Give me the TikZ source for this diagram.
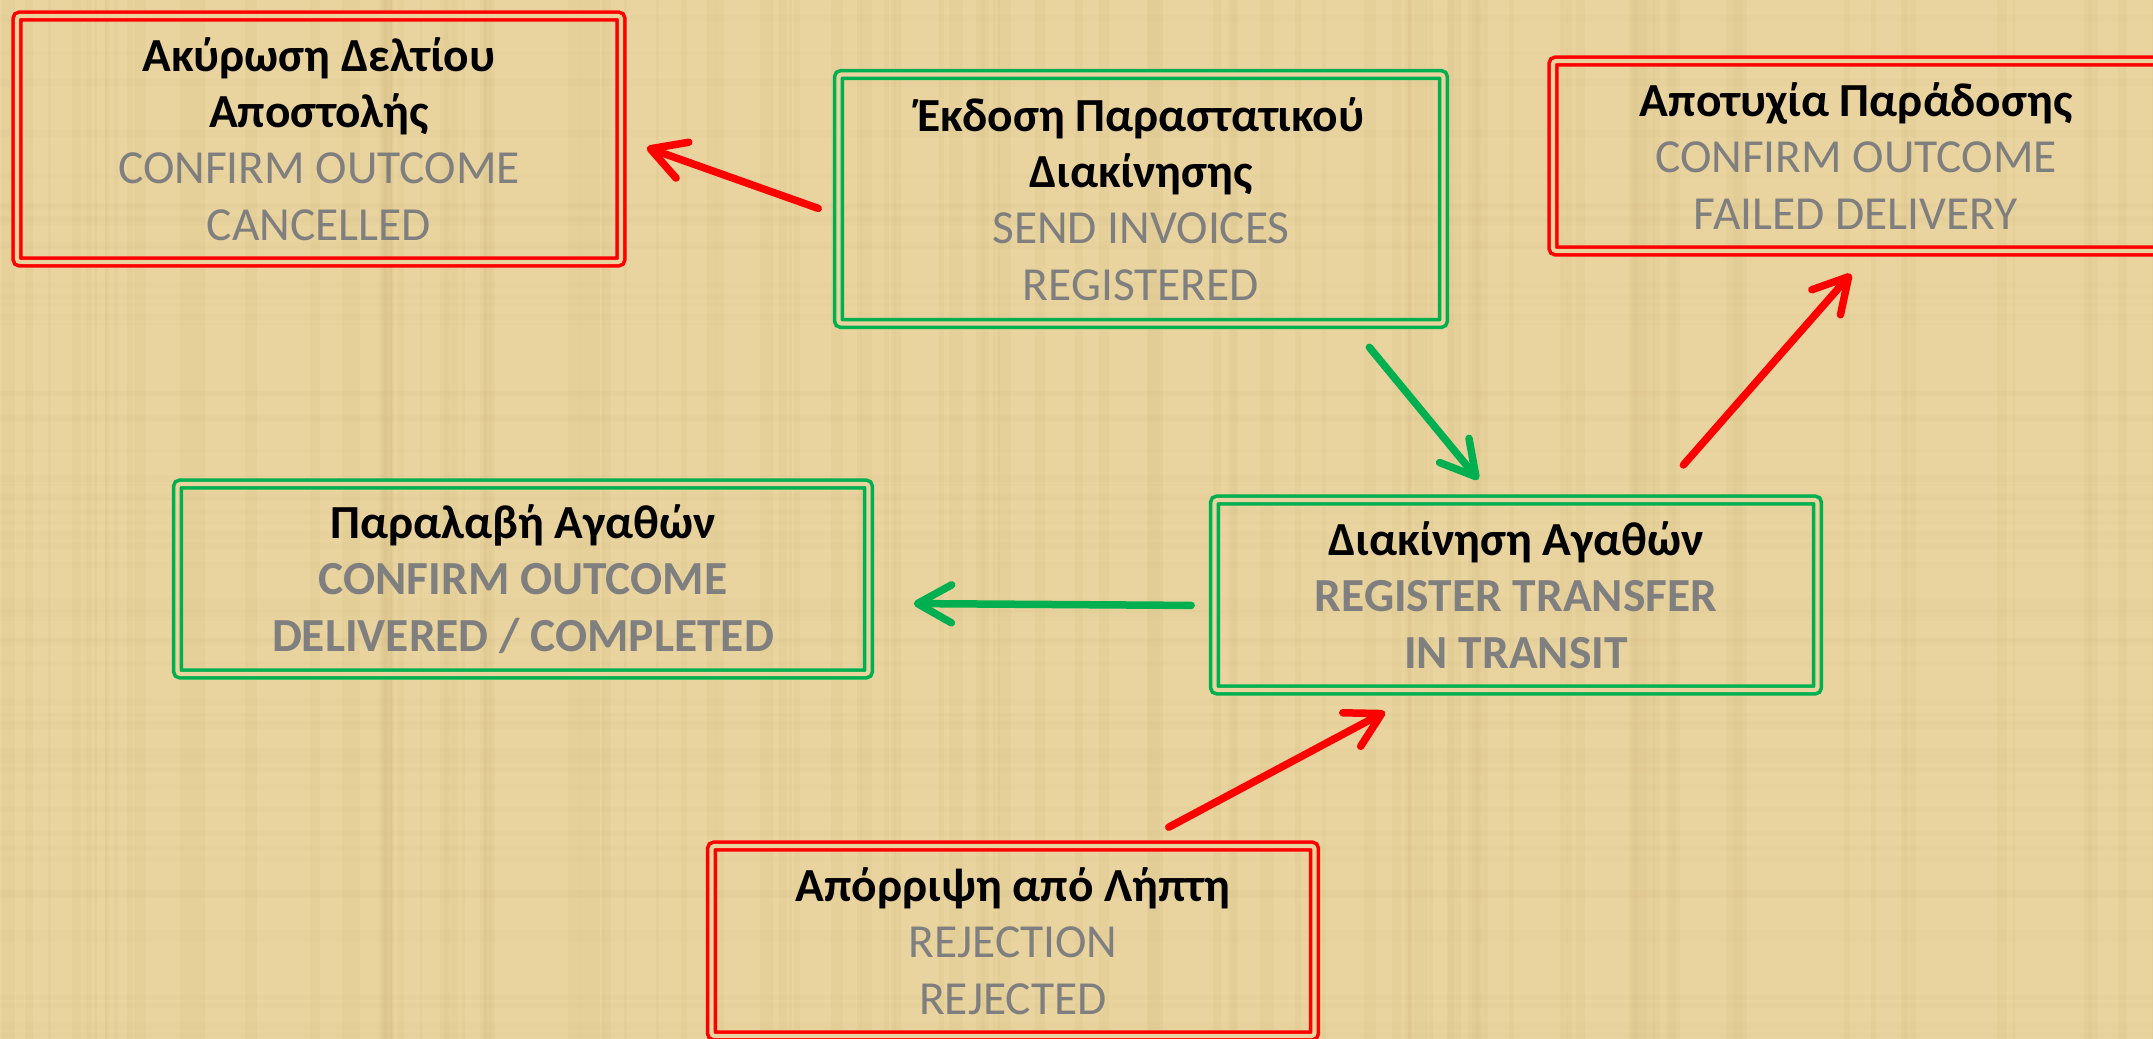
\documentclass[tikz,border=0pt]{standalone}
\usepackage{fontspec}
\setmainfont{Carlito}
\usetikzlibrary{arrows.meta}

\definecolor{paper}{HTML}{E9D39E}
\definecolor{fibre}{HTML}{C9AE6E}
\definecolor{okgreen}{HTML}{00B050}
\definecolor{txtgray}{HTML}{7F7F7F}
\newcommand{\grey}[1]{\textcolor{txtgray}{#1}}

\begin{document}
\begin{tikzpicture}[x=0.1mm, y=-0.1mm,
    statebox/.style={double=paper, double distance=0.42mm, line width=0.36mm,
        rounded corners=0.3mm, align=center, inner sep=0pt,
        font=\fontsize{13.5}{16}\selectfont},
    okbox/.style={statebox, draw=okgreen},
    failbox/.style={statebox, draw=red},
    flow/.style={line width=0.75mm, line cap=round,
        -{Straight Barb[length=3.4mm, width=3.8mm, round]}},
    okflow/.style={flow, okgreen},
    failflow/.style={flow, red}]
\useasboundingbox (0,0) rectangle (2153,1039);
\clip (0,0) rectangle (2153,1039);
\fill[paper] (0,0) rectangle (2153,1039);
% papyrus fibres
\pgfmathsetseed{11}
\foreach \i in {1,...,110} {
    \pgfmathsetmacro\fx{random(0,2153)}
    \pgfmathsetmacro\fw{random(2,14)}
    \fill[fibre, opacity=0.08] (\fx,0) rectangle ++(\fw,1039);
}
\foreach \i in {1,...,60} {
    \pgfmathsetmacro\fy{random(0,1039)}
    \pgfmathsetmacro\fw{random(2,8)}
    \fill[fibre, opacity=0.04] (0,\fy) rectangle ++(2153,\fw);
}

% states
\node[failbox, minimum width=60.4mm, minimum height=24.6mm] (cancel) at (319,139)
    {\textbf{Ακύρωση Δελτίου}\\ \textbf{Αποστολής}\\ \grey{CONFIRM OUTCOME}\\ \grey{CANCELLED}};
\node[okbox, minimum width=60.5mm, minimum height=24.9mm] (issue) at (1141,199)
    {\textbf{Έκδοση Παραστατικού}\\ \textbf{Διακίνησης}\\ \grey{SEND INVOICES}\\ \grey{REGISTERED}};
\node[failbox, minimum width=60.6mm, minimum height=19mm] (fail) at (1856,156)
    {\textbf{Αποτυχία Παράδοσης}\\ \grey{CONFIRM OUTCOME}\\ \grey{FAILED DELIVERY}};
\node[okbox, minimum width=69.1mm, minimum height=19mm] (recv) at (523,579)
    {\textbf{Παραλαβή Αγαθών}\\ \grey{\textbf{CONFIRM OUTCOME}}\\ \grey{\textbf{DELIVERED / COMPLETED}}};
\node[okbox, minimum width=60.3mm, minimum height=19mm] (move) at (1516,595)
    {\textbf{Διακίνηση Αγαθών}\\ \grey{\textbf{REGISTER TRANSFER}}\\ \grey{\textbf{IN TRANSIT}}};
\node[failbox, minimum width=60.3mm, minimum height=19mm] (reject) at (1013,941)
    {\textbf{Απόρριψη από Λήπτη}\\ \grey{REJECTION}\\ \grey{REJECTED}};

% transitions
\draw[failflow, shorten <=1.96mm, shorten >=2.55mm] (issue.183.3) -- (cancel.east);
\draw[okflow, shorten <=2.86mm, shorten >=2.41mm] (issue.329.8) -- (move.103.1);
\draw[failflow, shorten <=4.42mm, shorten >=2.81mm] (move.35.6) -- (fail.278.8);
\draw[okflow, shorten <=2.15mm, shorten >=4.35mm] (move.182.6) -- (recv.356.7);
\draw[failflow, shorten <=3.61mm, shorten >=4.25mm] (reject.38.6) -- (move.226.1);
\end{tikzpicture}
\end{document}
